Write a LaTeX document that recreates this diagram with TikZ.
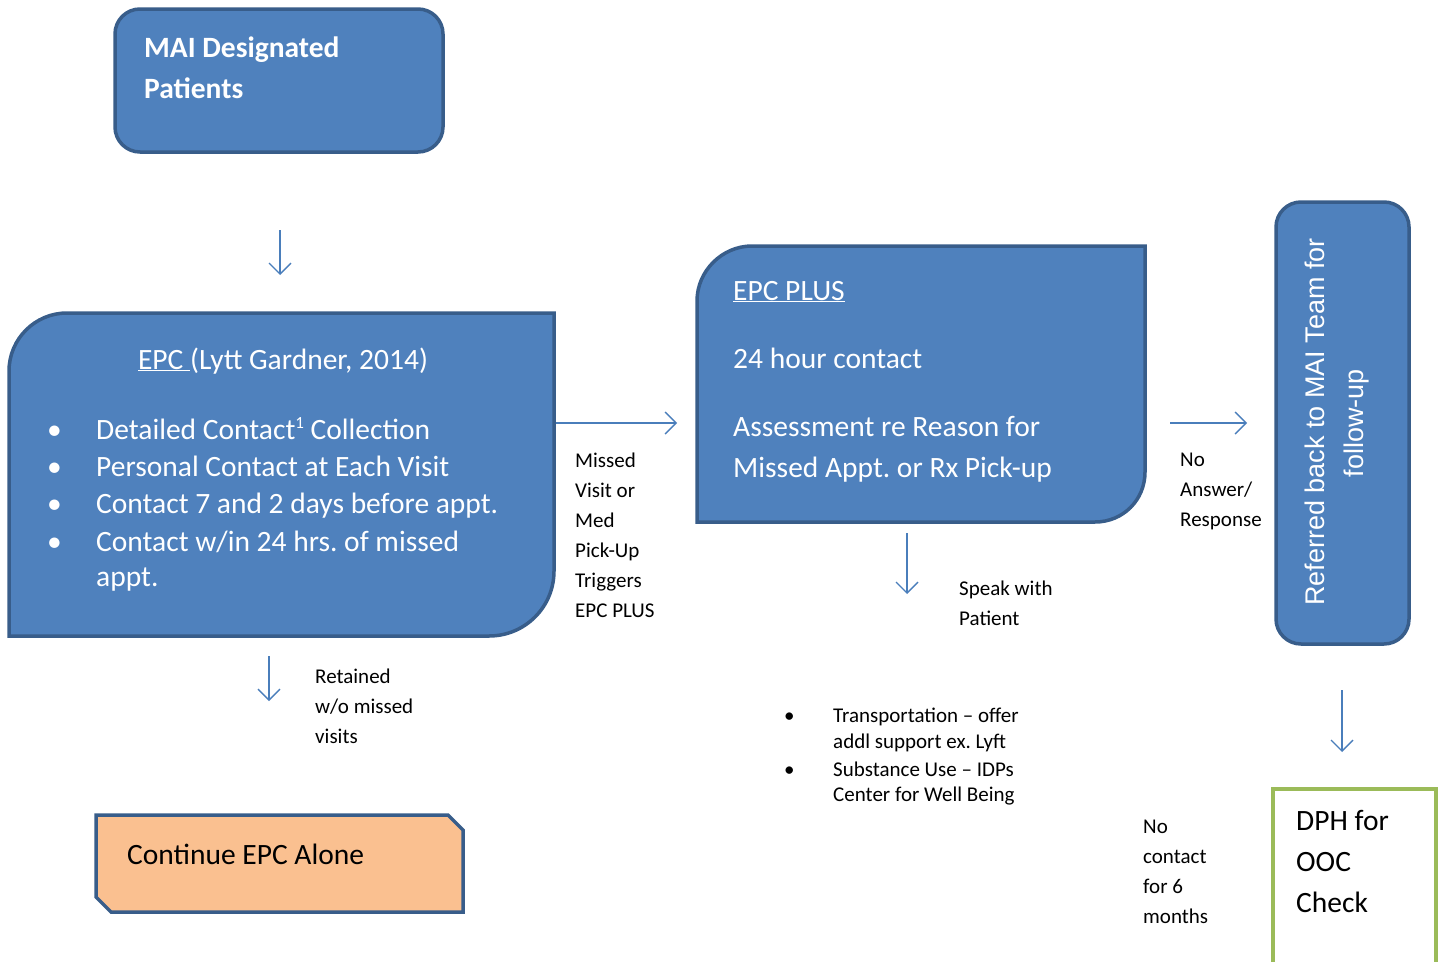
\documentclass[tikz,border=0pt]{standalone}
\usepackage{fontspec}
\setmainfont{Carlito}
\newfontfamily\arialf{Liberation Sans}
\usetikzlibrary{arrows.meta}
\definecolor{bfill}{HTML}{4F81BD}
\definecolor{bline}{HTML}{385D8A}
\definecolor{arr}{HTML}{4A7EBB}
\definecolor{ofill}{HTML}{FAC090}
\definecolor{gline}{HTML}{9BBB59}
\frenchspacing
\begin{document}
\begin{tikzpicture}[x=1pt,y=-1pt,
  bluebox/.style={fill=bfill,draw=bline,line width=3.5pt},
  big/.style={font=\fontsize{29.5}{34}\selectfont,inner sep=0pt,anchor=base west,text=white},
  bigdark/.style={font=\fontsize{29.5}{34}\selectfont,inner sep=0pt,anchor=base west,text=black},
  small/.style={font=\fontsize{21}{24}\selectfont,inner sep=0pt,anchor=base west,text=black},
  vert/.style={font=\arialf\fontsize{27}{30}\selectfont,text=white,rotate=90,inner sep=0pt},
  flow/.style={draw=arr,line width=1.4pt,-{Straight Barb[length=11pt,width=22pt]}}]
\useasboundingbox (0,0) rectangle (1442,961);
\fill[white] (0,0) rectangle (1442,961);

% MAI box
\draw[bluebox,rounded corners=25pt] (115,9) rectangle (443,152);
\node[big,font=\fontsize{29.5}{32}\selectfont\bfseries] (mai1) at (144,57) {MAI Designated};
\node[big,font=\fontsize{29.5}{32}\selectfont\bfseries] (mai2) at (144,98) {Patients};

% EPC box
\draw[bluebox] (9,636) -- (9,371) .. controls (9,339) and (35,313) .. (67,313) -- (554,313)
  -- (554,571) .. controls (554,607) and (525,636) .. (489,636) -- cycle;
\node[big,anchor=base] (epct) at (283,369) {\underline{EPC }(Lytt Gardner, 2014)};
\node[big] (eb1) at (47,439) {\textbullet};
\node[big] (eb2) at (47,476) {\textbullet};
\node[big] (eb3) at (47,513) {\textbullet};
\node[big] (eb4) at (47,551) {\textbullet};
\node[big] (e1) at (96,439) {Detailed Contact{\fontsize{17}{20}\selectfont\raisebox{11pt}{1}} Collection};
\node[big] (e2) at (96,476) {Personal Contact at Each Visit};
\node[big] (e3) at (96,513) {Contact 7 and 2 days before appt.};
\node[big] (e4) at (96,551) {Contact w/in 24 hrs. of missed};
\node[big] (e5) at (96,586) {appt.};

% EPC PLUS box
\draw[bluebox] (697,522) -- (697,301) .. controls (697,271) and (722,246) .. (752,246) -- (1145,246)
  -- (1145,472) .. controls (1145,500) and (1123,522) .. (1095,522) -- cycle;
\node[big] (p1) at (733,300) {\underline{EPC PLUS}};
\node[big] (p2) at (733,368) {24 hour contact};
\node[big] (p3) at (733,436) {Assessment re Reason for};
\node[big] (p4) at (733,477) {Missed Appt. or Rx Pick-up};

% Referred box
\draw[bluebox,rounded corners=25pt] (1276,202) rectangle (1409,644);
\node[vert] (r1) at (1315,422) {Referred back to MAI Team for};
\node[vert] (r2) at (1356,423) {follow-up};

% Continue box
\draw[fill=ofill,draw=bline,line width=3.5pt] (96,815) -- (448,815) -- (463,830) -- (463,912) -- (111,912) -- (96,897) -- cycle;
\node[bigdark] (c1) at (127,864) {Continue EPC Alone};

% DPH box
\draw[fill=white,draw=gline,line width=3.5pt] (1273,975) -- (1273,789) -- (1436,789) -- (1436,975);
\node[bigdark] (d1) at (1296,830) {DPH for};
\node[bigdark] (d2) at (1296,871) {OOC};
\node[bigdark] (d3) at (1296,912) {Check};

% labels
\node[small] (m1) at (575,467) {Missed};
\node[small] (m2) at (575,497) {Visit or};
\node[small] (m3) at (575,527) {Med};
\node[small] (m4) at (575,557) {Pick-Up};
\node[small] (m5) at (575,587) {Triggers};
\node[small] (m6) at (575,617) {EPC PLUS};

\node[small] (n1) at (1180,466) {No};
\node[small] (n2) at (1180,496) {Answer/};
\node[small] (n3) at (1180,526) {Response};

\node[small] (s1) at (959,595) {Speak with};
\node[small] (s2) at (959,625) {Patient};

\node[small] (t1) at (315,683) {Retained};
\node[small] (t2) at (315,713) {w/o missed};
\node[small] (t3) at (315,743) {visits};

\node[small] (q1) at (1143,833) {No};
\node[small] (q2) at (1143,863) {contact};
\node[small] (q3) at (1143,893) {for 6};
\node[small] (q4) at (1143,923) {months};

\node[small] (lb1) at (784,722) {\textbullet};
\node[small] (lb2) at (784,776) {\textbullet};
\node[small] (l1) at (833,722) {Transportation -- offer};
\node[small] (l2) at (833,748) {addl support ex. Lyft};
\node[small] (l3) at (833,776) {Substance Use -- IDPs};
\node[small] (l4) at (833,801) {Center for Well Being};

% arrows
\coordinate (a1s) at (280,230); \coordinate (a1e) at (280,275);
\coordinate (a2s) at (556,423); \coordinate (a2e) at (677,423);
\coordinate (a3s) at (1170,423); \coordinate (a3e) at (1247,423);
\coordinate (a4s) at (907,533); \coordinate (a4e) at (907,594);
\coordinate (a5s) at (269,656); \coordinate (a5e) at (269,701);
\coordinate (a6s) at (1342,690); \coordinate (a6e) at (1342,752);
\draw[flow] (a1s) -- (a1e);
\draw[flow] (a2s) -- (a2e);
\draw[flow] (a3s) -- (a3e);
\draw[flow] (a4s) -- (a4e);
\draw[flow] (a5s) -- (a5e);
\draw[flow] (a6s) -- (a6e);
\end{tikzpicture}
\end{document}
